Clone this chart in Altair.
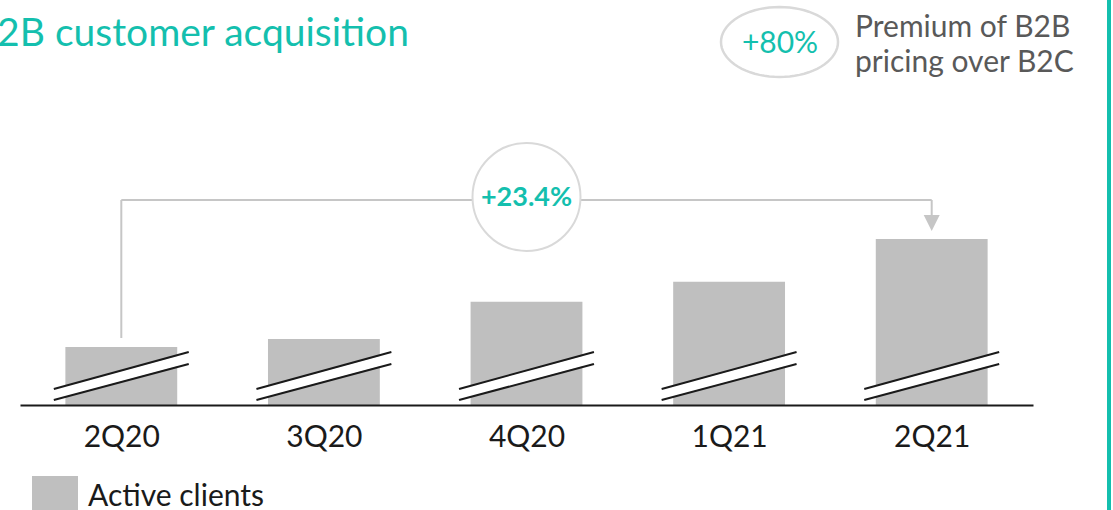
import altair as alt
import numpy as np
import pandas as pd

# Active B2B clients, indexed to 2Q20 = 100 (value axis is truncated)
quarters = ["2Q20", "3Q20", "4Q20", "1Q21", "2Q21"]
active_clients = [100.0, 101.7, 109.8, 114.1, 123.4]

# visible window of the truncated value axis
axis_floor = 87.4
axis_top = 175.2

TEAL = "#14bfae"
BAR_GRAY = "#bfbfbf"
LINE_GRAY = "#c6c6c6"
RING_GRAY = "#d9d9d9"
TEXT_GRAY = "#595959"
AXIS_BLACK = "#1a1a1a"
FONT = "Lato"

W, H = 1013, 405
idx = list(range(len(quarters)))
xscale = alt.Scale(domain=[-0.5, len(quarters) - 0.5], nice=False, zero=False)
yscale = alt.Scale(domain=[axis_floor, axis_top], nice=False, zero=False)
unit = (axis_top - axis_floor) / H  # value units per pixel

bars = pd.DataFrame({"i": idx, "quarter": quarters, "value": active_clients})
bars["x0"] = bars["i"] - 0.276
bars["x1"] = bars["i"] + 0.276
bars["floor"] = axis_floor

# slanted "axis break" strokes across each bar
brk = pd.DataFrame({"i": idx})
brk["bx0"] = brk["i"] - 0.333
brk["bx1"] = brk["i"] + 0.333
brk["lo0"] = axis_floor + 5 * unit
brk["lo1"] = axis_floor + 41 * unit
brk["mid0"] = axis_floor + 10.5 * unit
brk["mid1"] = axis_floor + 47 * unit
brk["hi0"] = axis_floor + 16 * unit
brk["hi1"] = axis_floor + 53 * unit

X = lambda f: alt.X(f, type="quantitative", scale=xscale,
                    axis=alt.Axis(values=idx, labelExpr=f"{quarters}[datum.value]",
                                  title=None, grid=False, ticks=False, tickSize=0,
                                  domainColor=AXIS_BLACK, domainWidth=2,
                                  labelFontSize=30, labelFont=FONT,
                                  labelColor=AXIS_BLACK, labelPadding=17,
                                  labelFontWeight="normal", zindex=1))
Y = lambda f: alt.Y(f, type="quantitative", scale=yscale, axis=None)

bar_layer = alt.Chart(bars).mark_rect(color=BAR_GRAY).encode(
    x=X("x0"), x2="x1", y=Y("floor"), y2="value")

gap = alt.Chart(brk).mark_rule(color="white", strokeWidth=10, strokeCap="butt").encode(
    x=X("bx0"), x2="bx1", y=Y("mid0"), y2="mid1")
edge_lo = alt.Chart(brk).mark_rule(color=AXIS_BLACK, strokeWidth=2).encode(
    x=X("bx0"), x2="bx1", y=Y("lo0"), y2="lo1")
edge_hi = alt.Chart(brk).mark_rule(color=AXIS_BLACK, strokeWidth=2).encode(
    x=X("bx0"), x2="bx1", y=Y("hi0"), y2="hi1")

# growth bracket from first to last quarter
growth = active_clients[-1] / active_clients[0] - 1
one = pd.DataFrame({"a": [0], "b": [len(quarters) - 1], "c": [2],
                    "label": [f"+{growth * 100:.1f}%"]})

leg_left = alt.Chart(one).mark_rule(color=LINE_GRAY, strokeWidth=2).encode(
    x=X("a"), y=alt.value(200), y2=alt.value(338))
leg_top = alt.Chart(one).mark_rule(color=LINE_GRAY, strokeWidth=2).encode(
    x=X("a"), x2="b", y=alt.value(200))
leg_right = alt.Chart(one).mark_rule(color=LINE_GRAY, strokeWidth=2).encode(
    x=X("b"), y=alt.value(200), y2=alt.value(217))
arrow = alt.Chart(one).mark_point(
    shape="M-1,-1L1,-1L0,1Z", filled=True, color=LINE_GRAY, opacity=1, size=256
).encode(x=X("b"), y=alt.value(223))
ring = alt.Chart(one).mark_point(
    shape="circle", filled=True, fill="white", stroke=RING_GRAY, strokeWidth=2,
    opacity=1, size=108 ** 2
).encode(x=X("c"), y=alt.value(197))
ring_text = alt.Chart(one).mark_text(
    font=FONT, fontSize=27, fontWeight="bold", color=TEAL, baseline="middle"
).encode(x=X("c"), y=alt.value(198), text="label")

# header (runs off the left edge of the canvas)
title = alt.Chart(one).mark_text(
    text="B2B customer acquisition", font=FONT, fontSize=39, color=TEAL,
    align="right", baseline="alphabetic"
).encode(x=alt.value(389), y=alt.value(46))

t = np.linspace(0, 2 * np.pi, 73)[:-1]
ellipse_path = "M" + "L".join(f"{np.cos(a):.4f},{0.598 * np.sin(a):.4f}" for a in t) + "Z"
oval = alt.Chart(one).mark_point(
    shape=ellipse_path, filled=False, stroke=RING_GRAY, strokeWidth=2.5,
    opacity=1, size=117 ** 2
).encode(x=alt.value(759.5), y=alt.value(42))
premium = alt.Chart(one).mark_text(
    text="+80%", font=FONT, fontSize=30, color=TEAL, baseline="middle"
).encode(x=alt.value(760), y=alt.value(44))
premium_note = alt.Chart(one).mark_text(
    text=["Premium of B2B", "pricing over B2C"], font=FONT, fontSize=30,
    color=TEXT_GRAY, align="left", baseline="alphabetic", lineHeight=35
).encode(x=alt.value(835), y=alt.value(37))

side_bar = alt.Chart(one).mark_rule(color=TEAL, strokeWidth=4).encode(
    x=alt.value(1089), y=alt.value(-5), y2=alt.value(520))

# legend
legend_box = alt.Chart(one).mark_square(
    color=BAR_GRAY, opacity=1, size=46 ** 2
).encode(x=alt.value(35), y=alt.value(499))
legend_text = alt.Chart(one).mark_text(
    text="Active clients", font=FONT, fontSize=30, color=AXIS_BLACK,
    align="left", baseline="alphabetic"
).encode(x=alt.value(68), y=alt.value(506))

chart = alt.layer(
    bar_layer, gap, edge_lo, edge_hi,
    leg_left, leg_top, leg_right, arrow, ring, ring_text,
    title, oval, premium, premium_note, side_bar, legend_box, legend_text
).properties(
    width=W, height=H,
    padding={"left": 20, "top": 0, "right": 80, "bottom": 105},
    autosize=alt.AutoSizeParams(type="none"),
    background="white",
).configure_view(stroke=None)

chart.save("out.html", embed_options={"renderer": "svg", "actions": False})
